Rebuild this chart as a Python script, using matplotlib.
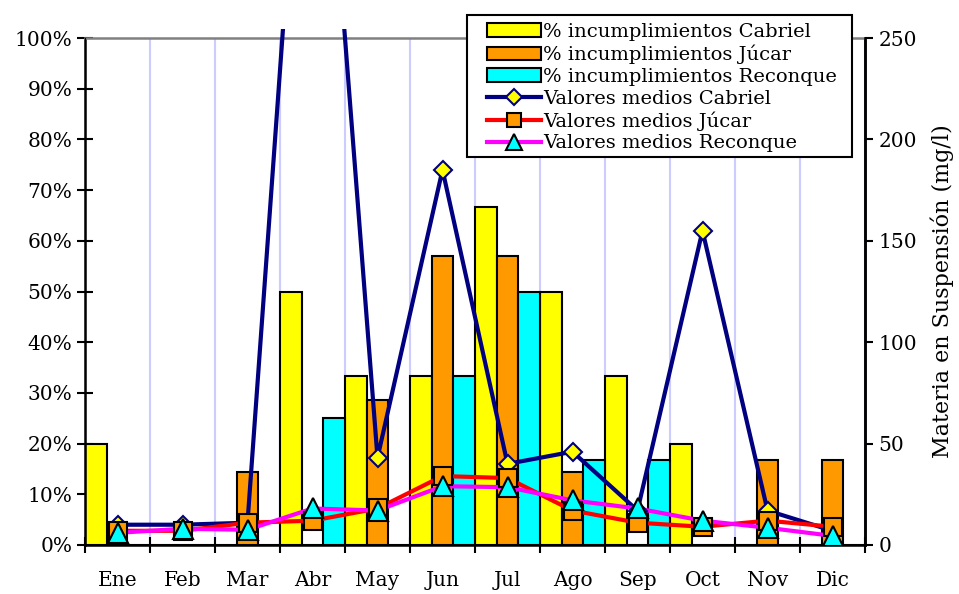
import matplotlib
matplotlib.use('Agg')
import matplotlib.pyplot as plt
from matplotlib.lines import Line2D
from matplotlib.patches import Patch, Rectangle
from matplotlib.ticker import PercentFormatter
from matplotlib.transforms import Bbox, TransformedBbox
import numpy as np

plt.rcParams['font.family'] = ['DejaVu Serif']

meses = ['Ene', 'Feb', 'Mar', 'Abr', 'May', 'Jun', 'Jul', 'Ago', 'Sep', 'Oct', 'Nov', 'Dic']

# % incumplimientos (fraction)
inc_cabriel = [0.20, 0, 0, 0.50, 0.333, 0.333, 0.667, 0.50, 0.333, 0.20, 0, 0]
inc_jucar = [0, 0, 0.143, 0, 0.286, 0.571, 0.571, 0.143, 0, 0, 0.167, 0.167]
inc_reconque = [0, 0, 0, 0.25, 0, 0.333, 0.50, 0.167, 0.167, 0, 0, 0]

# valores medios (mg/l)
med_cabriel = [10, 10, 11, 457, 43, 185, 40, 46, 17, 155, 17, 7]
med_jucar = [7, 7, 11, 12, 18, 34, 33, 17, 11, 9, 12, 9]
med_reconque = [6, 8, 7.5, 18, 17, 29, 28.5, 22, 18, 12, 8.5, 4.5]

x = np.arange(len(meses))
w = 1 / 3

fig = plt.figure(figsize=(9.59, 5.94), dpi=100)
ax = fig.add_axes([85 / 959, 1 - 545 / 594, 780 / 959, 507 / 594])

ax.bar(x - w, inc_cabriel, width=w, color='#ffff00', edgecolor='black', linewidth=1.5, zorder=2)
ax.bar(x, inc_jucar, width=w, color='#ff9900', edgecolor='black', linewidth=1.5, zorder=2)
ax.bar(x + w, inc_reconque, width=w, color='#00ffff', edgecolor='black', linewidth=1.5, zorder=2)

ax.set_xlim(-0.5, 11.5)
ax.set_ylim(0, 1)
ax.set_yticks(np.arange(0, 1.01, 0.1))
ax.yaxis.set_major_formatter(PercentFormatter(1.0, decimals=0))
ax.set_xticks(np.arange(-0.5, 12, 1))
ax.set_xticklabels([])
ax.set_xticks(x, minor=True)
ax.set_xticklabels(meses, minor=True)
ax.tick_params(axis='x', which='minor', length=0, labelsize=14.5, pad=19)
ax.tick_params(axis='x', which='major', direction='inout', length=11, width=1.5)
ax.tick_params(axis='y', direction='inout', length=11, width=1.5, labelsize=14.5)
ax.xaxis.grid(True, which='major', color='#ccccff', linewidth=1.5)
ax.set_axisbelow(True)
for s in ['left', 'bottom', 'right']:
    ax.spines[s].set_linewidth(1.8)
ax.spines['top'].set_color('#808080')
ax.spines['top'].set_linewidth(1.8)

ax2 = ax.twinx()
ax2.set_ylim(0, 250)
ax2.set_yticks(np.arange(0, 251, 50))
ax2.tick_params(axis='y', direction='out', length=6, width=1.5, labelsize=14.5)
ax2.spines['right'].set_linewidth(1.8)
ax2.spines['top'].set_visible(False)
ax2.set_ylabel('Materia en Suspensión (mg/l)', fontsize=16, labelpad=10)

clip = TransformedBbox(Bbox([[0, 0], [1, 1.018]]), ax2.transAxes)

# lines first, markers on top
l1, = ax2.plot(x, med_cabriel, color='#000080', linewidth=3, zorder=3)
l1.set_clip_box(clip)
ax2.plot(x, med_jucar, color='#ff0000', linewidth=3, zorder=3)
ax2.plot(x, med_reconque, color='#ff00ff', linewidth=3, zorder=3)
ax2.plot(x, med_cabriel, linestyle='none', marker='D', markersize=9.5,
         markerfacecolor='#ffff00', markeredgecolor='#000080', markeredgewidth=1.5, zorder=4)
ax2.plot(x, med_jucar, linestyle='none', marker='s', markersize=13,
         markerfacecolor='#ff9900', markeredgecolor='black', markeredgewidth=1.5, zorder=4)
ax2.plot(x, med_reconque, linestyle='none', marker='^', markersize=14,
         markerfacecolor='#00ffff', markeredgecolor='black', markeredgewidth=1.5, zorder=5)

handles = [
    Patch(facecolor='#ffff00', edgecolor='black', linewidth=1.5),
    Patch(facecolor='#ff9900', edgecolor='black', linewidth=1.5),
    Patch(facecolor='#00ffff', edgecolor='black', linewidth=1.5),
    Line2D([], [], color='#000080', linewidth=3, marker='D', markersize=8,
           markerfacecolor='#ffff00', markeredgecolor='#000080', markeredgewidth=1.5),
    Line2D([], [], color='#ff0000', linewidth=3, marker='s', markersize=10,
           markerfacecolor='#ff9900', markeredgecolor='black', markeredgewidth=1.5),
    Line2D([], [], color='#ff00ff', linewidth=3, marker='^', markersize=11,
           markerfacecolor='#00ffff', markeredgecolor='black', markeredgewidth=1.5),
]
labels = ['% incumplimientos Cabriel', '% incumplimientos Júcar', '% incumplimientos Reconque',
          'Valores medios Cabriel', 'Valores medios Júcar', 'Valores medios Reconque']

# legend frame drawn separately so the padding matches the original
frame = Rectangle((467 / 959, 1 - 157 / 594), 385 / 959, 142 / 594, transform=fig.transFigure,
                  facecolor='white', edgecolor='black', linewidth=1.5, zorder=4)
fig.patches.append(frame)
leg = fig.legend(handles, labels, loc='upper left', bbox_to_anchor=(487 / 959, 1 - 23 / 594),
                 fontsize=14, frameon=False, borderpad=0, labelspacing=0.19,
                 handlelength=2.8, handletextpad=0.1, borderaxespad=0)
leg.set_zorder(6)

fig.savefig('out.png', dpi=100)
